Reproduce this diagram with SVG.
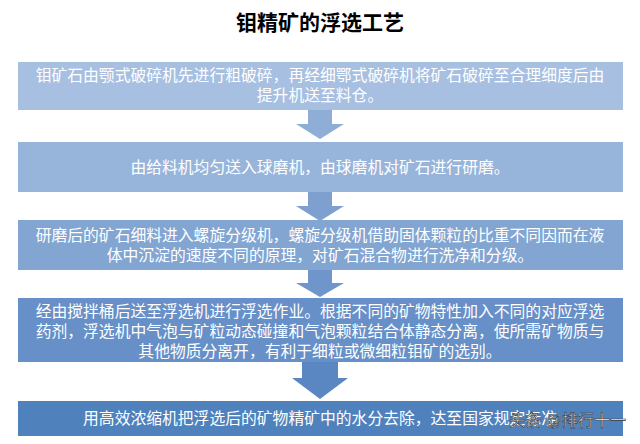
<svg xmlns="http://www.w3.org/2000/svg" width="640" height="444" viewBox="0 0 640 444">
<style>
.t{font-family:"Liberation Sans","Noto Sans CJK SC",sans-serif;font-size:15.8px;fill:#fff;text-anchor:middle}
</style>
<rect width="640" height="444" fill="#fff"/>
<text x="320" y="30" text-anchor="middle" font-family="Liberation Serif,'Noto Sans CJK SC',serif" font-weight="bold" font-size="21" fill="#000">钼精矿的浮选工艺</text>
<g id="connectors">
<path d="M308 110h24v14h12l-24 15l-24-15h12z" fill="#8eaed8"/>
<path d="M308 192h24v14h12l-24 15l-24-15h12z" fill="#7ea0d0"/>
<path d="M308 270h24v13h12l-24 14l-24-14h12z" fill="#6f95cb"/>
<path d="M302 362h36v16h10l-28 21l-28-21h10z" fill="#5a87c2"/>
</g>
<g id="n1"><rect x="18" y="62" width="605" height="48" fill="#a7c0e1"/>
<text class="t" x="320" y="81">钼矿石由颚式破碎机先进行粗破碎，再经细鄂式破碎机将矿石破碎至合理细度后由</text>
<text class="t" x="320" y="101">提升机送至料仓。</text></g>
<g id="n2"><rect x="18" y="142" width="605" height="50" fill="#97b5db"/>
<text class="t" x="320" y="173">由给料机均匀送入球磨机，由球磨机对矿石进行研磨。</text></g>
<g id="n3"><rect x="18" y="220" width="605" height="50" fill="#82a5d2"/>
<text class="t" x="320" y="241">研磨后的矿石细料进入螺旋分级机，螺旋分级机借助固体颗粒的比重不同因而在液</text>
<text class="t" x="320" y="261">体中沉淀的速度不同的原理，对矿石混合物进行洗净和分级。</text></g>
<g id="n4"><rect x="18" y="298" width="605" height="64" fill="#6790c8"/>
<text class="t" x="320" y="317">经由搅拌桶后送至浮选机进行浮选作业。根据不同的矿物特性加入不同的对应浮选</text>
<text class="t" x="320" y="337">药剂，浮选机中气泡与矿粒动态碰撞和气泡颗粒结合体静态分离，使所需矿物质与</text>
<text class="t" x="320" y="357">其他物质分离开，有利于细粒或微细粒钼矿的选别。</text></g>
<g id="n5"><rect x="18" y="401" width="605" height="35" fill="#4f81bd"/>
<text class="t" x="320" y="424">用高效浓缩机把浮选后的矿物精矿中的水分去除，达至国家规定标准</text></g>
<text x="626" y="426" text-anchor="end" font-family="Liberation Sans,'Noto Sans CJK SC',sans-serif" font-size="16" fill="#fff" stroke="#333" stroke-width="0.6">头条 @排行十一</text>
</svg>
